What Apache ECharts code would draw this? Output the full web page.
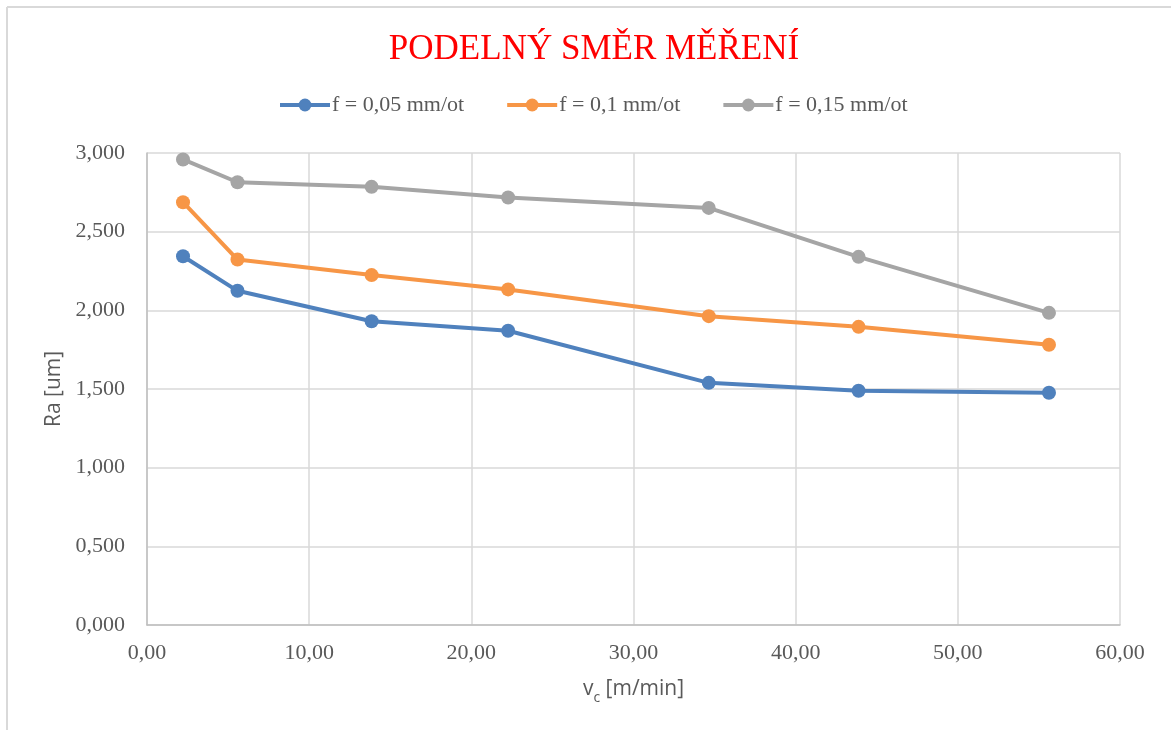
<!DOCTYPE html>
<html>
<head>
<meta charset="utf-8">
<script src="https://cdn.jsdelivr.net/npm/echarts@6/dist/echarts.min.js"></script>
<style>
  html, body { margin: 0; padding: 0; background: #ffffff; }
  #chart { width: 1171px; height: 730px; }
</style>
</head>
<body>
<div id="chart"></div>
<script>
// Cutting speed v_c [m/min]
const cuttingSpeed = [2.22, 5.58, 13.85, 22.27, 34.64, 43.88, 55.62];
// Roughness Ra [um] for each feed
const raFeed005 = [2.344, 2.124, 1.931, 1.870, 1.539, 1.489, 1.476];
const raFeed010 = [2.687, 2.323, 2.224, 2.133, 1.963, 1.895, 1.781];
const raFeed015 = [2.959, 2.814, 2.785, 2.717, 2.651, 2.340, 1.984];
const seriesNames = ['f = 0,05 mm/ot', 'f = 0,1 mm/ot', 'f = 0,15 mm/ot'];
const seriesColors = ['#4f81bd', '#f79646', '#a5a5a5'];

const pairs = ys => cuttingSpeed.map((x, i) => [x, ys[i]]);
const serif = '"Liberation Serif", "Times New Roman", serif';
const sans = '"Open Sans", "Liberation Sans", sans-serif';

const chart = echarts.init(document.getElementById('chart'), null, { renderer: 'canvas' });

const makeSeries = (name, ys, color) => ({
  name: name,
  type: 'line',
  data: pairs(ys),
  symbol: 'circle',
  symbolSize: 14,
  showSymbol: true,
  lineStyle: { color: color, width: 4 },
  itemStyle: { color: color },
  emphasis: { disabled: true },
  z: 3
});

chart.setOption({
  animation: false,
  backgroundColor: '#ffffff',
  graphic: [
    // frame around the chart (top and left edges)
    { type: 'line', shape: { x1: 7, y1: 7, x2: 1171, y2: 7 }, style: { stroke: '#d9d9d9', lineWidth: 2 } },
    { type: 'line', shape: { x1: 7, y1: 7, x2: 7, y2: 730 }, style: { stroke: '#d9d9d9', lineWidth: 2 } }
  ],
  title: {
    text: 'PODELNÝ SMĚR MĚŘENÍ',
    left: 589,
    textAlign: 'center',
    top: 27,
    textStyle: { fontFamily: serif, fontSize: 35, fontWeight: 'normal', color: '#ff0000' }
  },
  legend: {
    data: seriesNames,
    top: 89,
    left: 273,
    itemWidth: 50,
    itemHeight: 16,
    itemGap: 41,
    lineStyle: { width: 4 },
    textStyle: { fontFamily: serif, fontSize: 22, color: '#595959', padding: [0, 0, 0, -3] }
  },
  grid: { left: 147, right: 51, top: 153, bottom: 105, containLabel: false },
  xAxis: {
    type: 'value',
    min: 0, max: 60, interval: 10,
    name: '{v|v}{c|c}{v| [m/min]}',
    nameLocation: 'middle',
    nameGap: 54,
    nameTextStyle: {
      rich: {
        v: { fontFamily: sans, fontSize: 21, color: '#595959', verticalAlign: 'bottom' },
        c: { fontFamily: sans, fontSize: 14, color: '#595959', verticalAlign: 'bottom', padding: [0, 0, -5, 0] }
      }
    },
    axisLine: { show: true, lineStyle: { color: '#bfbfbf', width: 1.5 } },
    axisTick: { show: false },
    axisLabel: {
      fontFamily: serif, fontSize: 22, color: '#595959', margin: 17,
      formatter: v => v.toFixed(2).replace('.', ',')
    },
    splitLine: { show: true, lineStyle: { color: '#d9d9d9', width: 1.5 } }
  },
  yAxis: {
    type: 'value',
    min: 0, max: 3, interval: 0.5,
    name: 'Ra [um]',
    nameLocation: 'middle',
    nameGap: 79,
    nameRotate: 90,
    nameTextStyle: { fontFamily: sans, fontSize: 21, color: '#595959' },
    axisLine: { show: true, lineStyle: { color: '#bfbfbf', width: 1.5 } },
    axisTick: { show: false },
    axisLabel: {
      fontFamily: serif, fontSize: 22, color: '#595959', margin: 22,
      formatter: v => v.toFixed(3).replace('.', ',')
    },
    splitLine: { show: true, lineStyle: { color: '#d9d9d9', width: 1.5 } }
  },
  series: [
    makeSeries(seriesNames[0], raFeed005, seriesColors[0]),
    makeSeries(seriesNames[1], raFeed010, seriesColors[1]),
    makeSeries(seriesNames[2], raFeed015, seriesColors[2])
  ]
});
</script>
</body>
</html>
